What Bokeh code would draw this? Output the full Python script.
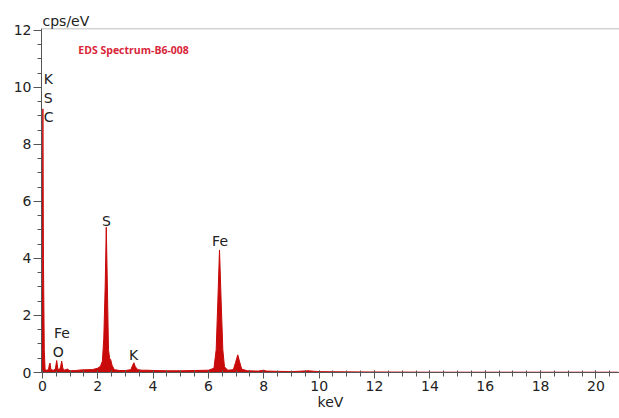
from bokeh.plotting import figure
from bokeh.models import FixedTicker, Range1d, Label, ColumnDataSource, Span
from bokeh.core.properties import value
from bokeh.embed import file_html
from bokeh.resources import INLINE

# EDS spectrum read as (energy keV, counts per eV) sample points
energy = [-0.06, -0.03, 0.00, 0.02, 0.04, 0.07, 0.10, 0.15, 0.22, 0.26, 0.28, 0.31,
          0.40, 0.47, 0.52, 0.56, 0.62, 0.66, 0.70, 0.74, 0.80, 0.90, 1.00, 1.20,
          1.40, 1.60, 1.80, 2.00, 2.10, 2.17, 2.22, 2.27, 2.31, 2.35, 2.39, 2.43,
          2.47, 2.52, 2.60, 2.80, 3.00, 3.20, 3.26, 3.31, 3.36, 3.45, 3.60, 3.80,
          4.00, 4.50, 5.00, 5.50, 6.00, 6.20, 6.28, 6.34, 6.40, 6.46, 6.52, 6.58,
          6.70, 6.90, 6.98, 7.06, 7.12, 7.20, 7.40, 7.80, 8.00, 8.10, 9.00, 9.60,
          10.00, 11.50, 14.00, 20.80]
cps = [0.0, 0.8, 4.0, 9.25, 4.0, 0.8, 0.10, 0.08, 0.10, 0.30, 0.33, 0.10,
       0.08, 0.12, 0.42, 0.12, 0.10, 0.20, 0.40, 0.15, 0.08, 0.12, 0.06, 0.07,
       0.09, 0.10, 0.10, 0.15, 0.22, 0.40, 1.20, 3.00, 5.10, 3.00, 0.80, 0.50,
       0.45, 0.25, 0.10, 0.07, 0.07, 0.10, 0.25, 0.34, 0.20, 0.10, 0.08, 0.08,
       0.07, 0.06, 0.06, 0.07, 0.08, 0.15, 0.80, 2.50, 4.30, 2.50, 0.80, 0.20,
       0.08, 0.10, 0.35, 0.62, 0.40, 0.12, 0.06, 0.05, 0.08, 0.05, 0.03, 0.06,
       0.03, 0.02, 0.01, 0.01]

# Element line markers
elem_names = ["K", "S", "C", "Fe", "O", "S", "K", "Fe"]
elem_x = [0.05, 0.05, 0.05, 0.42, 0.38, 2.32, 3.30, 6.42]
elem_y = [10.3, 9.62, 8.95, 1.37, 0.73, 5.33, 0.63, 4.6]
elem_align = ["left", "left", "left", "left", "left", "center", "center", "center"]

x_ticks = [0, 2, 4, 6, 8, 10, 12, 14, 16, 18, 20]
y_ticks = [0, 2, 4, 6, 8, 10, 12]
x_minor = [i * 0.5 for i in range(0, 42)]
y_minor = [i * 0.5 for i in range(0, 25)]
y_top = 12.07

spec_color = "#c80a0a"
axis_color = "#555555"
text_color = "#222222"
font = "DejaVu Sans"

p = figure(width=619, height=418, output_backend="svg", toolbar_location=None,
           x_range=Range1d(-0.03, 20.85), y_range=Range1d(0, y_top),
           title="cps/eV")
p.min_border_left = 41
p.min_border_right = 0
p.min_border_top = 28
p.min_border_bottom = 46
p.background_fill_color = "white"
p.border_fill_color = "white"
p.outline_line_color = None
p.grid.visible = False

p.title.align = "left"
p.title.text_font = font
p.title.text_font_size = "14px"
p.title.text_font_style = "normal"
p.title.text_color = text_color
p.title.standoff = 0
p.title.offset = 1

# top rule of the plot box
p.add_layout(Span(location=y_top, dimension="width", line_color="#a8a8a8", line_width=1.5))

spec = ColumnDataSource(dict(x=energy, y=cps))
p.varea(x="x", y1=0, y2="y", source=spec, fill_color=spec_color)
p.line(x="x", y="y", source=spec, line_color=spec_color, line_width=1)

labels = ColumnDataSource(dict(x=elem_x, y=elem_y, t=elem_names, a=elem_align))
p.text(x="x", y="y", text="t", text_align="a", source=labels,
       text_baseline="middle", text_font=value(font), text_font_size="14px",
       text_color=text_color)

for ax in (p.xaxis[0], p.yaxis[0]):
    ax.axis_line_color = axis_color
    ax.major_tick_line_color = axis_color
    ax.minor_tick_line_color = axis_color
    ax.major_label_text_font = font
    ax.major_label_text_font_size = "14px"
    ax.major_label_text_color = text_color
    ax.axis_label_text_font = font
    ax.axis_label_text_font_size = "14px"
    ax.axis_label_text_font_style = "normal"
    ax.axis_label_text_color = text_color

p.xaxis.ticker = FixedTicker(ticks=x_ticks, minor_ticks=x_minor)
p.yaxis.ticker = FixedTicker(ticks=y_ticks, minor_ticks=y_minor)
p.xaxis.major_tick_out = 6
p.xaxis.major_tick_in = 2
p.xaxis.minor_tick_out = 4
p.xaxis.minor_tick_in = 2
p.xaxis.major_label_standoff = 2
p.xaxis.axis_label = "keV"
p.xaxis.axis_label_standoff = 0
p.yaxis.major_tick_out = 8
p.yaxis.major_tick_in = 0
p.yaxis.minor_tick_out = 4
p.yaxis.minor_tick_in = 0
p.yaxis.major_label_standoff = 2

p.add_layout(Label(x=1.3, y=11.3, text="EDS Spectrum-B6-008", text_baseline="middle",
                   text_font="Open Sans", text_font_style="bold", text_font_size="10.5px",
                   text_color="#d9263a"))

open("out.html", "w").write(file_html(p, INLINE))
